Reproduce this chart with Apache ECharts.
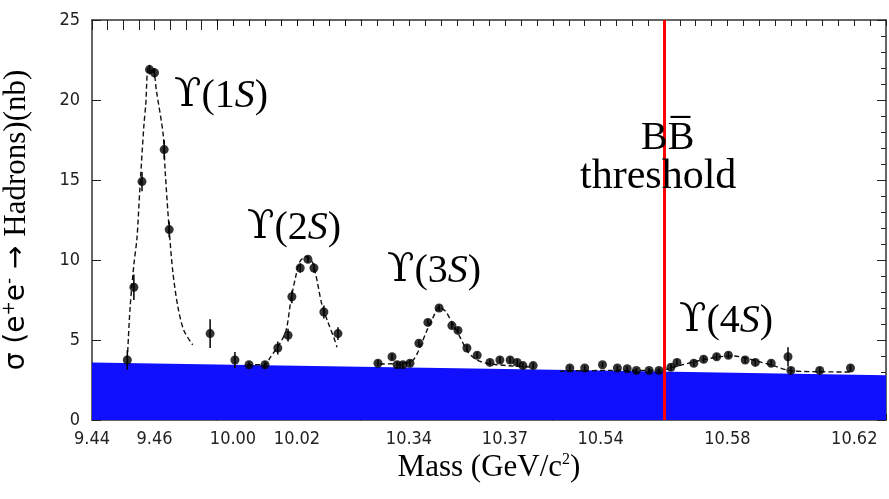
<!DOCTYPE html>
<html>
<head>
<meta charset="utf-8">
<script src="https://cdn.jsdelivr.net/npm/echarts@6/dist/echarts.min.js"></script>
<style>
	html, body { margin: 0; padding: 0; background: #fff; }
	#main { width: 889px; height: 499px; }
</style>
</head>
<body>
<div id="main"></div>
<script>
	// broken mass axis: one grid per scan window [min, max] in GeV
	var segMin = [9.44, 9.995, 10.325, 10.525]
	var segMax = [9.48, 10.04, 10.385, 10.63]
	var segLeft = [89, 217, 361, 553]
	var segWidth = [128, 144, 192, 335]
	var tickLabels = [9.44, 9.46, 10.00, 10.02, 10.34, 10.37, 10.54, 10.58, 10.62]

	// measured points: [mass, sigma (nb), error]
	var ups1S = [
		[9.4513, 3.75, 0.6],
		[9.4534, 8.3, 0.8],
		[9.4560, 14.9, 0.6],
		[9.4584, 21.9, 0.3],
		[9.4600, 21.7, 0.3],
		[9.4631, 16.9, 0.6],
		[9.4647, 11.9, 0.5],
		[9.4778, 5.4, 0.9]
	]
	var ups2S = [
		[10.0006, 3.75, 0.5],
		[10.0050, 3.45, 0.2],
		[10.0100, 3.45, 0.2],
		[10.0140, 4.5, 0.4],
		[10.0172, 5.3, 0.4],
		[10.0184, 7.7, 0.4],
		[10.0210, 9.5, 0.3],
		[10.0234, 10.05, 0.2],
		[10.0253, 9.5, 0.3],
		[10.0284, 6.75, 0.4],
		[10.0328, 5.4, 0.4]
	]
	var ups3S = [
		[10.3303, 3.55, 0.2],
		[10.3347, 3.95, 0.2],
		[10.3363, 3.45, 0.2],
		[10.3381, 3.45, 0.2],
		[10.3403, 3.55, 0.2],
		[10.3431, 4.8, 0.2],
		[10.3459, 6.1, 0.2],
		[10.3494, 7.0, 0.2],
		[10.3534, 5.9, 0.2],
		[10.3553, 5.6, 0.2],
		[10.3581, 4.5, 0.2],
		[10.3613, 4.05, 0.2],
		[10.3653, 3.6, 0.2],
		[10.3684, 3.75, 0.2],
		[10.3716, 3.75, 0.2],
		[10.3738, 3.6, 0.2],
		[10.3756, 3.4, 0.2],
		[10.3788, 3.4, 0.2]
	]
	var ups4S = [
		[10.5303, 3.25, 0.15],
		[10.5350, 3.25, 0.15],
		[10.5406, 3.45, 0.15],
		[10.5453, 3.25, 0.15],
		[10.5484, 3.2, 0.15],
		[10.5513, 3.1, 0.15],
		[10.5553, 3.1, 0.15],
		[10.5584, 3.1, 0.15],
		[10.5622, 3.3, 0.2],
		[10.5641, 3.6, 0.2],
		[10.5694, 3.55, 0.2],
		[10.5725, 3.8, 0.2],
		[10.5766, 3.95, 0.2],
		[10.5803, 4.05, 0.2],
		[10.5856, 3.75, 0.2],
		[10.5888, 3.6, 0.2],
		[10.5938, 3.55, 0.2],
		[10.5991, 3.95, 0.6],
		[10.6000, 3.1, 0.2],
		[10.6091, 3.1, 0.2],
		[10.6188, 3.25, 0.2]
	]

	// fitted curves (dashed): [mass, sigma]
	var fit1S = [
		[9.4513, 3.75], [9.4522, 7.06], [9.4534, 9.7], [9.4544, 11.4],
		[9.4553, 14.4], [9.4566, 18.4], [9.4572, 19.7], [9.4581, 22.0],
		[9.4597, 21.8], [9.4606, 20.6], [9.4628, 17.8], [9.4634, 15.6],
		[9.4647, 11.9], [9.4659, 9.2], [9.4675, 7.06], [9.4694, 5.6],
		[9.4722, 4.7]
	]
	var fit2S = [
		[10.0044, 3.45], [10.0100, 3.45], [10.0116, 3.9], [10.0147, 4.8],
		[10.0166, 5.6], [10.0181, 7.5], [10.0197, 9.06], [10.0209, 9.9],
		[10.0228, 10.2], [10.0247, 9.9], [10.0259, 9.06], [10.0278, 7.2],
		[10.0297, 6.1], [10.0316, 5.1], [10.0325, 4.55]
	]
	var fit3S = [
		[10.3309, 3.5], [10.3388, 3.56], [10.3413, 3.75], [10.3428, 4.25],
		[10.3456, 5.6], [10.3475, 6.4], [10.3494, 7.06], [10.3516, 6.75],
		[10.3534, 6.1], [10.3559, 5.2], [10.3584, 4.25], [10.3613, 3.75],
		[10.3653, 3.5], [10.3788, 3.3]
	]
	var fit4S = [
		[10.5272, 3.05], [10.5428, 3.1], [10.5584, 3.1], [10.5647, 3.4],
		[10.5709, 3.7], [10.5772, 3.95], [10.5819, 4.0], [10.5881, 3.75],
		[10.5944, 3.4], [10.6006, 3.06], [10.6194, 3.0]
	]

	// non-resonant background (blue band), value at each window edge
	var bg1S = [[9.44, 3.6], [9.48, 3.47]]
	var bg2S = [[9.995, 3.47], [10.04, 3.33]]
	var bg3S = [[10.325, 3.33], [10.385, 3.14]]
	var bg4S = [[10.525, 3.14], [10.63, 2.8]]

	var thresholdMass = 10.56

	var points = [ups1S, ups2S, ups3S, ups4S]
	var fits = [fit1S, fit2S, fit3S, fit4S]
	var bgs = [bg1S, bg2S, bg3S, bg4S]

	var axisColor = '#333'
	var tickFont = 'DejaVu Sans Condensed, Liberation Sans Narrow, sans-serif'
	var serif = 'Liberation Serif, DejaVu Serif, serif'

	// top tick variants per window (checking which one draws)
	var topTickLen = [10, 6, 6, 6]
	var topTickColor = ['#222', 'black', '#222', 'rgb(34,34,34)']

	var grids = [], xAxes = [], yAxes = [], series = []

	for (var i = 0; i < 4; i++) {
		grids.push({
			left: segLeft[i],
			width: segWidth[i],
			top: 20,
			height: 400
		})
		// bottom axis with labels
		xAxes.push({
			type: 'value',
			gridIndex: i,
			min: segMin[i],
			max: segMax[i],
			interval: 0.005,
			position: 'bottom',
			axisLine: { show: true, lineStyle: { color: axisColor, width: 1.5 } },
			axisTick: { show: true, inside: true, length: 6, lineStyle: { color: '#222' } },
			splitLine: { show: false },
			axisLabel: {
				margin: 10,
				fontSize: 18,
				fontFamily: tickFont,
				color: '#222',
				showMinLabel: true,
				showMaxLabel: true,
				formatter: function (v) {
					for (var k = 0; k < tickLabels.length; k++) {
						if (Math.abs(tickLabels[k] - v) < 1e-6) return v.toFixed(2)
					}
					return ''
				}
			}
		})
		// top frame axis
		xAxes.push({
			type: 'value',
			gridIndex: i,
			min: segMin[i],
			max: segMax[i],
			interval: 0.005,
			position: 'top',
			axisLine: { show: true, lineStyle: { color: axisColor, width: 1.5 } },
			axisTick: { show: true, inside: true, length: topTickLen[i], lineStyle: { color: topTickColor[i] } },
			splitLine: { show: false },
			axisLabel: { show: false }
		})
		var y = {
			type: 'value',
			gridIndex: i,
			min: 0,
			max: 25,
			interval: 5,
			splitLine: { show: false }
		}
		if (i == 0) {
			y.position = 'left'
			y.axisLine = { show: true, lineStyle: { color: axisColor, width: 1.5 } }
			y.axisTick = { show: true, inside: true, length: 9, lineStyle: { color: '#222' } }
			y.axisLabel = { margin: 12, fontSize: 18, fontFamily: tickFont, color: '#222' }
			y.name = '{s|σ (e}{sup|+}{s|e}{sup|-}{s| → }{h|Hadrons)(nb)}'
			y.nameLocation = 'middle'
			y.nameRotate = 90
			y.nameGap = 60
			y.nameTextStyle = {
				color: '#000',
				rich: {
					s: { fontSize: 28, fontFamily: 'DejaVu Sans, sans-serif', color: '#000' },
					sup: { fontSize: 17, fontFamily: 'DejaVu Sans, sans-serif', color: '#000', verticalAlign: 'top' },
					h: { fontSize: 31, fontFamily: serif, color: '#000' }
				}
			}
		} else if (i == 3) {
			y.position = 'right'
			y.axisLine = { show: true, lineStyle: { color: axisColor, width: 1.5 } }
			y.axisTick = { show: true, inside: true, length: 9, lineStyle: { color: '#222' } }
			y.minorTick = { show: true, splitNumber: 5, length: 5, lineStyle: { color: '#222' } }
			y.axisLabel = { show: false }
		} else {
			y.show = false
		}
		yAxes.push(y)

		series.push({
			type: 'line',
			xAxisIndex: i * 2,
			yAxisIndex: i,
			data: bgs[i],
			symbol: 'none',
			lineStyle: { width: 0 },
			areaStyle: { color: '#1010ff', opacity: 1 },
			z: 3,
			silent: true
		})
		series.push({
			type: 'line',
			xAxisIndex: i * 2,
			yAxisIndex: i,
			data: fits[i],
			symbol: 'none',
			smooth: 0.3,
			lineStyle: { color: '#111', width: 1.4, type: [5, 3] },
			z: 4
		})
		series.push({
			type: 'custom',
			xAxisIndex: i * 2,
			yAxisIndex: i,
			data: points[i],
			z: 5,
			renderItem: function (params, api) {
				var top = api.coord([api.value(0), api.value(1) + api.value(2)])
				var bot = api.coord([api.value(0), api.value(1) - api.value(2)])
				return {
					type: 'line',
					shape: { x1: top[0], y1: top[1], x2: bot[0], y2: bot[1] },
					style: { stroke: '#000', lineWidth: 1.5 }
				}
			}
		})
		series.push({
			type: 'scatter',
			xAxisIndex: i * 2,
			yAxisIndex: i,
			data: points[i],
			symbol: 'circle',
			symbolSize: 9,
			itemStyle: { color: '#000' },
			z: 6
		})
	}

	// BB threshold line, drawn under the blue band
	series.push({
		type: 'line',
		xAxisIndex: 6,
		yAxisIndex: 3,
		data: [],
		z: 2,
		markLine: {
			silent: true,
			symbol: 'none',
			label: { show: false },
			lineStyle: { color: '#ff0000', width: 3, type: 'solid' },
			data: [{ xAxis: thresholdMass }]
		}
	})

	function upsLabel(n, left, top) {
		return {
			type: 'text',
			left: left,
			top: top,
			z: 10,
			style: {
				text: '{u|ϒ}{t|(' + n + '}{i|S}{t|)}',
				rich: {
					u: { fontSize: 40, fontFamily: 'DejaVu Serif, serif', fill: '#000' },
					t: { fontSize: 40, fontFamily: serif, fill: '#000' },
					i: { fontSize: 40, fontFamily: serif, fontStyle: 'italic', fill: '#000' }
				}
			}
		}
	}

	var option = {
		animation: false,
		backgroundColor: '#fff',
		grid: grids,
		xAxis: xAxes,
		yAxis: yAxes,
		series: series,
		graphic: [
			upsLabel(1, 174, 76),
			upsLabel(2, 247, 208),
			upsLabel(3, 387, 251),
			upsLabel(4, 679, 301),
			{
				type: 'text', left: 641, top: 118, z: 10,
				style: { text: 'BB\u0305', font: '40px ' + serif, fill: '#000' }
			},
			{
				type: 'text', left: 580, top: 156, z: 10,
				style: { text: 'threshold', font: '42px ' + serif, fill: '#000' }
			},
			{
				type: 'text', x: 489, y: 452, z: 10,
				style: {
					text: '{m|Mass (GeV/c}{sup|2}{m|)}',
					align: 'center',
					rich: {
						m: { fontSize: 31, fontFamily: serif, fill: '#000' },
						sup: { fontSize: 16, fontFamily: serif, fill: '#000', verticalAlign: 'top' }
					}
				}
			}
		]
	}

	var chart = echarts.init(document.getElementById('main'))
	chart.setOption(option)
</script>
</body>
</html>
